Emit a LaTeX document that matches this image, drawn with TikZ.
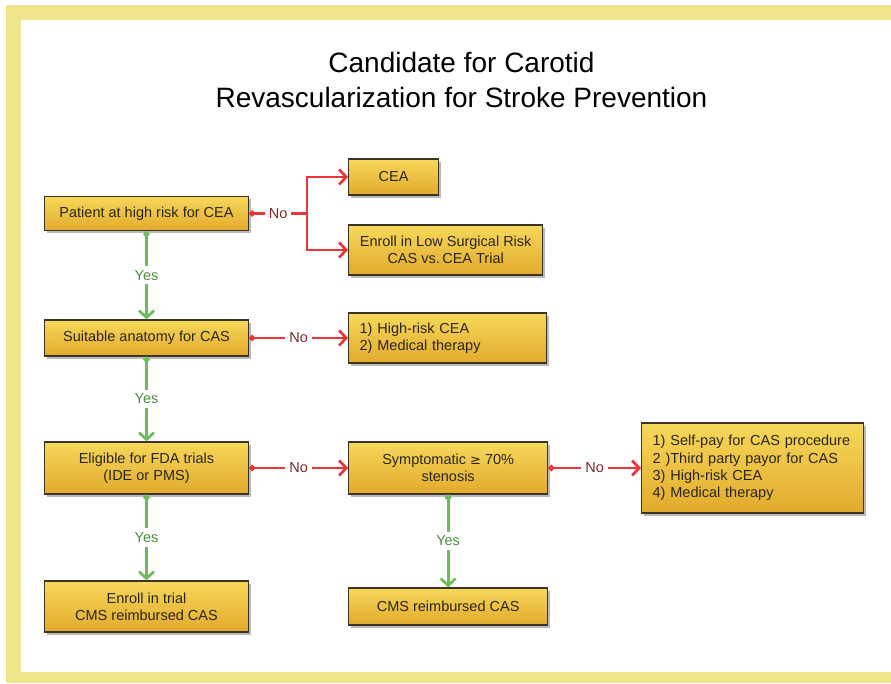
\documentclass[tikz,border=0pt]{standalone}
\usepackage{fontspec}
\setmainfont{Liberation Sans}
\usetikzlibrary{arrows.meta,shadows}
\definecolor{frameyel}{HTML}{EEE48A}
\definecolor{boxtop}{HTML}{F6D85A}
\definecolor{boxbot}{HTML}{E2AA2C}
\definecolor{boxedge}{HTML}{3B3424}
\definecolor{nored}{HTML}{E8363B}
\definecolor{yesgreen}{HTML}{6CBD5A}
\definecolor{notext}{HTML}{7D2A25}
\definecolor{yestext}{HTML}{4E8A3E}
\definecolor{boxtext}{HTML}{2A261C}
\begin{document}
\begin{tikzpicture}[x=1pt,y=-1pt,
  box/.style={draw=boxedge, line width=1.3pt, top color=boxtop, bottom color=boxbot,
    drop shadow={shadow xshift=2.5pt, shadow yshift=-3pt, opacity=0.55},
    text=boxtext, font=\fontsize{14.5}{17.3}\selectfont, align=center, inner sep=0pt},
  leftbox/.style={box, align=left, inner xsep=11pt},
  redln/.style={draw=nored, line width=2.7pt},
  greenln/.style={draw=yesgreen, line width=2.7pt},
  tipend/.style={-{Straight Barb[length=7pt,width=15pt]}},
  dottip/.style={{Circle[length=6pt]}-{Straight Barb[length=7pt,width=15pt]}},
  nolab/.style={fill=white, text=notext, inner xsep=4pt, inner ysep=1pt, font=\fontsize{14.5}{16}\selectfont},
  yeslab/.style={fill=white, text=yestext, inner xsep=1pt, inner ysep=4pt, font=\fontsize{14.5}{16}\selectfont},
  titlefont/.style={font=\fontsize{28}{35}\selectfont, align=center}
]
\useasboundingbox (0,0) rectangle (891,684);
\fill[frameyel] (6,5) rectangle (891,683);
\fill[white] (21,20) rectangle (891,672);

\node[titlefont] (title) at (461.5,80) {Candidate for Carotid\\Revascularization for Stroke Prevention};

% left column
\node[box, minimum width=204pt, minimum height=34pt] (b1) at (146.5,213.5) {Patient at high risk for CEA};
\node[box, minimum width=204pt, minimum height=36pt] (b4) at (146.5,338) {Suitable anatomy for CAS};
\node[box, minimum width=204pt, minimum height=52pt] (b6) at (146.5,468) {Eligible for FDA trials\\(IDE or PMS)};
\node[box, minimum width=204pt, minimum height=51pt] (b7) at (146.5,606.5) {Enroll in trial\\CMS reimbursed CAS};

% middle column
\node[box, anchor=west, minimum width=90pt, minimum height=36pt] (cea) at (348,177) {CEA};
\node[box, anchor=west, minimum width=194pt, minimum height=50pt] (enr) at (348,250) {Enroll in Low Surgical Risk\\CAS vs.\,CEA Trial};
\node[leftbox, anchor=west, text width=176pt, minimum height=50pt] (b5) at (348,338) {1) High-risk CEA\\2) Medical therapy};
\node[box, anchor=west, minimum width=199pt, minimum height=52pt] (symp) at (348,468) {Symptomatic {\fontspec{DejaVu Sans}\fontsize{13}{15}\selectfont ≥} 70\%\\stenosis};
\node[box, anchor=west, minimum width=199pt, minimum height=37pt] (cms) at (348,606.5) {CMS reimbursed CAS};

% right column
\node[leftbox, anchor=west, text width=200pt, minimum height=90pt] (self) at (641,468) {1) Self-pay for CAS procedure\\2 )Third party payor for CAS\\3) High-risk CEA\\4) Medical therapy};

% red connectors
\coordinate (j1) at (307,213.5);
\draw[redln, {Circle[length=6pt]}-] (b1.east) -- node[nolab]{No} (j1);
\draw[redln, tipend] (j1) |- (cea.west);
\draw[redln, tipend] (j1) |- (enr.west);
\draw[redln, dottip] (b4.east) -- node[nolab]{No} (b4.east -| b5.west);
\draw[redln, dottip] (b6.east) -- node[nolab]{No} (symp.west);
\draw[redln, dottip] (symp.east) -- node[nolab]{No} (self.west);

% green connectors
\draw[greenln, dottip] (b1.south) -- node[yeslab]{Yes} (b4.north);
\draw[greenln, dottip] (b4.south) -- node[yeslab]{Yes} (b6.north);
\draw[greenln, dottip] (b6.south) -- node[yeslab]{Yes} (b7.north);
\draw[greenln, dottip] (symp.south) -- node[yeslab]{Yes} (cms.north);
\end{tikzpicture}
\end{document}
